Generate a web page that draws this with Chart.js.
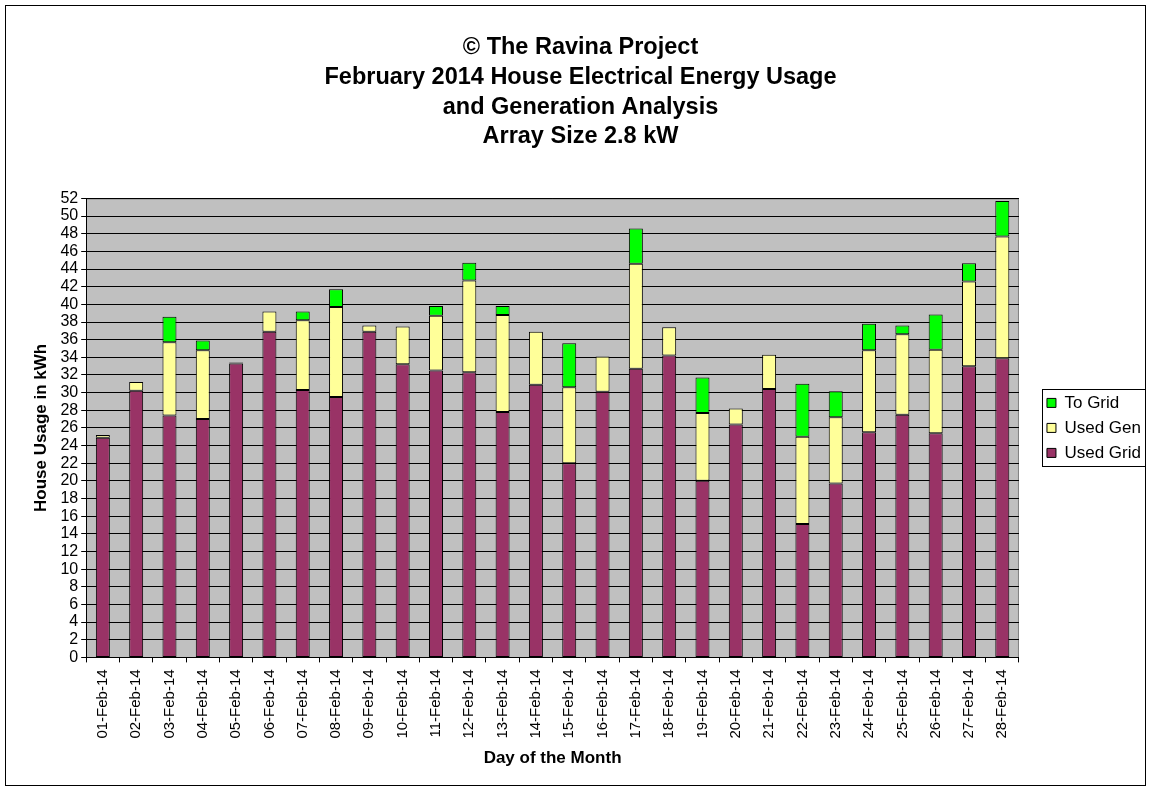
<!DOCTYPE html>
<html>
<head>
<meta charset="utf-8">
<script src="https://cdn.jsdelivr.net/npm/chart.js@4/dist/chart.umd.min.js"></script>
<style>
  html, body { margin: 0; padding: 0; background: #fff; }
  #wrap { width: 1151px; height: 791px; position: relative; }
</style>
</head>
<body>
<div id="wrap"><canvas id="chart" width="1151" height="791"></canvas></div>
<script>
// Day labels for February 2014
const days = [
    '01-Feb-14', '02-Feb-14', '03-Feb-14', '04-Feb-14', '05-Feb-14', '06-Feb-14', '07-Feb-14',
    '08-Feb-14', '09-Feb-14', '10-Feb-14', '11-Feb-14', '12-Feb-14', '13-Feb-14', '14-Feb-14',
    '15-Feb-14', '16-Feb-14', '17-Feb-14', '18-Feb-14', '19-Feb-14', '20-Feb-14', '21-Feb-14',
    '22-Feb-14', '23-Feb-14', '24-Feb-14', '25-Feb-14', '26-Feb-14', '27-Feb-14', '28-Feb-14'
];

// kWh per day
const usedGrid = [24.9, 30.2, 27.4, 27.0, 33.3, 36.9, 30.3, 29.5, 36.9, 33.2, 32.5, 32.3, 27.8, 30.9,
                  22.0, 30.1, 32.7, 34.2, 20.0, 26.4, 30.4, 15.1, 19.7, 25.5, 27.5, 25.4, 33.0, 33.9];
const usedGen  = [0.3, 1.0, 8.3, 7.8, 0.1, 2.3, 7.9, 10.2, 0.7, 4.3, 6.2, 10.4, 11.0, 6.0,
                  8.6, 4.0, 11.9, 3.2, 7.7, 1.8, 3.9, 9.9, 7.5, 9.3, 9.1, 9.45, 9.6, 13.8];
const toGrid   = [0, 0, 2.9, 1.1, 0, 0, 1.0, 2.0, 0, 0, 1.1, 2.0, 1.0, 0,
                  5.0, 0, 4.0, 0, 4.0, 0, 0, 6.0, 2.95, 3.0, 1.0, 4.0, 2.05, 4.0];

const titleLines = [
    '\u00A9 The Ravina Project',
    'February 2014 House Electrical Energy Usage',
    'and Generation Analysis',
    'Array Size 2.8 kW'
];

const FONT = 'Arial, "Liberation Sans", sans-serif';

// gray plot background, outer frame and legend box
const decor = {
    id: 'decor',
    beforeDraw(chart) {
        const { ctx, chartArea: a } = chart;
        ctx.save();
        ctx.fillStyle = '#fff';
        ctx.fillRect(0, 0, chart.width, chart.height);
        ctx.fillStyle = '#c0c0c0';
        ctx.fillRect(a.left, a.top, a.right - a.left, a.bottom - a.top);
        ctx.strokeStyle = '#808080';
        ctx.lineWidth = 1;
        ctx.beginPath();
        ctx.moveTo(a.left, a.top + 0.5);
        ctx.lineTo(a.right - 0.5, a.top + 0.5);
        ctx.lineTo(a.right - 0.5, a.bottom);
        ctx.stroke();
        ctx.restore();
    },
    afterDraw(chart) {
        const { ctx } = chart;
        ctx.save();
        ctx.strokeStyle = '#000';
        ctx.lineWidth = 1;
        ctx.strokeRect(5.5, 5.5, chart.width - 11, chart.height - 11);
        const lg = chart.legend;
        if (lg && lg.legendHitBoxes.length) {
            const hb = lg.legendHitBoxes;
            const left = Math.round(hb[0].left - 5);
            const top = Math.round(hb[0].top - 5);
            const bot = Math.round(hb[hb.length - 1].top + hb[hb.length - 1].height + 5);
            ctx.strokeRect(left + 0.5, top + 0.5, 1145 - left, bot - top);
        }
        ctx.restore();
    }
};

const barStyle = { borderColor: '#000', borderWidth: 1, borderSkipped: false, barPercentage: 0.42, categoryPercentage: 1 };

new Chart(document.getElementById('chart'), {
    type: 'bar',
    data: {
        labels: days,
        datasets: [
            { label: 'Used Grid', data: usedGrid, backgroundColor: '#993366', ...barStyle },
            { label: 'Used Gen',  data: usedGen,  backgroundColor: '#ffff99', ...barStyle },
            { label: 'To Grid',   data: toGrid,   backgroundColor: '#00ff00', ...barStyle }
        ]
    },
    options: {
        responsive: false,
        animation: false,
        layout: { padding: { top: 0, left: 10, right: 0, bottom: 22 } },
        plugins: {
            tooltip: { enabled: false },
            title: {
                display: true,
                text: titleLines,
                color: '#000',
                font: { family: FONT, size: 23.5, weight: 'bold', lineHeight: 1.26 },
                padding: { top: 33, bottom: 47 }
            },
            legend: {
                position: 'right',
                fullSize: false,
                reverse: true,
                labels: {
                    color: '#000',
                    font: { family: FONT, size: 17 },
                    boxWidth: 9,
                    boxHeight: 9,
                    padding: 8,
                    useBorderRadius: false,
                    generateLabels(chart) {
                        return chart.data.datasets.map((ds, i) => ({
                            text: ds.label,
                            fillStyle: ds.backgroundColor,
                            strokeStyle: '#000',
                            lineWidth: 1,
                            hidden: false,
                            datasetIndex: i
                        }));
                    }
                }
            }
        },
        scales: {
            x: {
                stacked: true,
                border: { color: '#000', width: 1 },
                grid: { drawOnChartArea: false, drawTicks: true, tickLength: 5, color: '#000', offset: true },
                ticks: {
                    color: '#000',
                    font: { family: FONT, size: 15 },
                    maxRotation: 90,
                    minRotation: 90,
                    autoSkip: false,
                    padding: 7
                },
                title: {
                    display: true,
                    text: 'Day of the Month',
                    color: '#000',
                    font: { family: FONT, size: 17, weight: 'bold' },
                    padding: { top: 3, bottom: 0 }
                }
            },
            y: {
                stacked: true,
                min: 0,
                max: 52,
                border: { color: '#000', width: 1 },
                grid: { color: '#000', tickLength: 5 },
                ticks: {
                    stepSize: 2,
                    autoSkip: false,
                    color: '#000',
                    font: { family: FONT, size: 16 },
                    padding: 3
                },
                title: {
                    display: true,
                    text: 'House Usage in kWh',
                    color: '#000',
                    font: { family: FONT, size: 17, weight: 'bold' },
                    padding: { top: 21, bottom: 6 }
                }
            },
            // empty spacer between the plot and the legend
            gap: {
                position: 'right',
                display: true,
                grid: { display: false },
                ticks: { display: false },
                border: { display: false },
                afterFit(scale) { scale.width = 20; }
            }
        }
    },
    plugins: [decor]
});
</script>
</body>
</html>
